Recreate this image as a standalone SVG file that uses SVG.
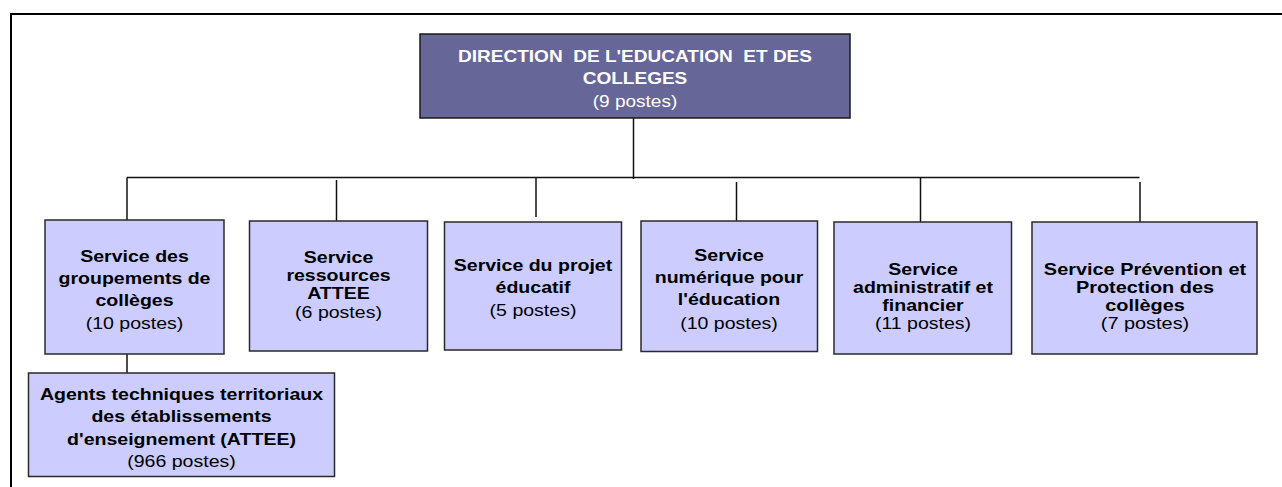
<svg xmlns="http://www.w3.org/2000/svg" width="1282" height="487" viewBox="0 0 1282 487">
  <style>
    .frame { stroke: #000; stroke-width: 2; fill: none; }
    .link { stroke: #111; stroke-width: 1.5; fill: none; }
    .head { fill: #666699; stroke: #1a1a1a; stroke-width: 1.5; }
    .unit { fill: #ccccff; stroke: #2a2a2a; stroke-width: 1.5; }
    text { font-family: "Liberation Sans", Arial, sans-serif; font-size: 17px; text-anchor: middle; white-space: pre; }
    .b { font-weight: bold; }
    .headtxt { fill: #ffffff; }
    .unittxt { fill: #000000; }
  </style>

  <!-- page frame -->
  <path class="frame" d="M11 487 V14 H1282"/>

  <!-- connectors -->
  <g id="connectors">
    <path class="link" d="M633.5 118 V179"/>
    <path class="link" d="M127 177.5 H1139.5"/>
    <path class="link" d="M127 177.5 V220"/>
    <path class="link" d="M336.5 180 V221"/>
    <path class="link" d="M536 177.5 V217"/>
    <path class="link" d="M736.5 182 V221"/>
    <path class="link" d="M920.5 177.5 V222"/>
    <path class="link" d="M1140 182 V222"/>
    <path class="link" d="M127 354 V373"/>
  </g>

  <!-- head of the directorate -->
  <g id="direction">
    <rect class="head" x="420" y="34" width="430" height="84"/>
    <text class="headtxt" xml:space="preserve" transform="matrix(1.12 0 0 1 635 0)"><tspan class="b" x="0" y="62">DIRECTION  DE L'EDUCATION  ET DES</tspan><tspan class="b" x="0" y="84">COLLEGES</tspan><tspan x="0" y="107">(9 postes)</tspan></text>
  </g>

  <g id="groupements">
    <rect class="unit" x="45" y="220" width="179" height="134"/>
    <text class="unittxt" transform="matrix(1.15 0 0 1 134.5 0)"><tspan class="b" x="0" y="262">Service des</tspan><tspan class="b" x="0" y="284">groupements de</tspan><tspan class="b" x="0" y="306">collèges</tspan><tspan x="0" y="329">(10 postes)</tspan></text>
  </g>

  <g id="ressources">
    <rect class="unit" x="249.5" y="221" width="178" height="130"/>
    <text class="unittxt" transform="matrix(1.15 0 0 1 338.5 0)"><tspan class="b" x="0" y="263">Service</tspan><tspan class="b" x="0" y="281">ressources</tspan><tspan class="b" x="0" y="299">ATTEE</tspan><tspan x="0" y="318">(6 postes)</tspan></text>
  </g>

  <g id="projet">
    <rect class="unit" x="444.5" y="222" width="177" height="128"/>
    <text class="unittxt" transform="matrix(1.15 0 0 1 533 0)"><tspan class="b" x="0" y="271">Service du projet</tspan><tspan class="b" x="0" y="293">éducatif</tspan><tspan x="0" y="316">(5 postes)</tspan></text>
  </g>

  <g id="numerique">
    <rect class="unit" x="641" y="221" width="176.5" height="130.5"/>
    <text class="unittxt" transform="matrix(1.15 0 0 1 729 0)"><tspan class="b" x="0" y="261">Service</tspan><tspan class="b" x="0" y="283">numérique pour</tspan><tspan class="b" x="0" y="305">l'éducation</tspan><tspan x="0" y="329">(10 postes)</tspan></text>
  </g>

  <g id="administratif">
    <rect class="unit" x="834" y="222" width="177.5" height="132"/>
    <text class="unittxt" transform="matrix(1.15 0 0 1 923 0)"><tspan class="b" x="0" y="275">Service</tspan><tspan class="b" x="0" y="293">administratif et</tspan><tspan class="b" x="0" y="311">financier</tspan><tspan x="0" y="329">(11 postes)</tspan></text>
  </g>

  <g id="prevention">
    <rect class="unit" x="1032" y="222" width="225" height="132"/>
    <text class="unittxt" transform="matrix(1.17 0 0 1 1145 0)"><tspan class="b" x="0" y="275">Service Prévention et</tspan><tspan class="b" x="0" y="293">Protection des</tspan><tspan class="b" x="0" y="311">collèges</tspan><tspan x="0" y="329">(7 postes)</tspan></text>
  </g>

  <g id="attee">
    <rect class="unit" x="28.5" y="373" width="306" height="103.5"/>
    <text class="unittxt" transform="matrix(1.15 0 0 1 181.5 0)"><tspan class="b" x="0" y="400">Agents techniques territoriaux</tspan><tspan class="b" x="0" y="422">des établissements</tspan><tspan class="b" x="0" y="445">d'enseignement (ATTEE)</tspan><tspan x="0" y="467">(966 postes)</tspan></text>
  </g>
</svg>
